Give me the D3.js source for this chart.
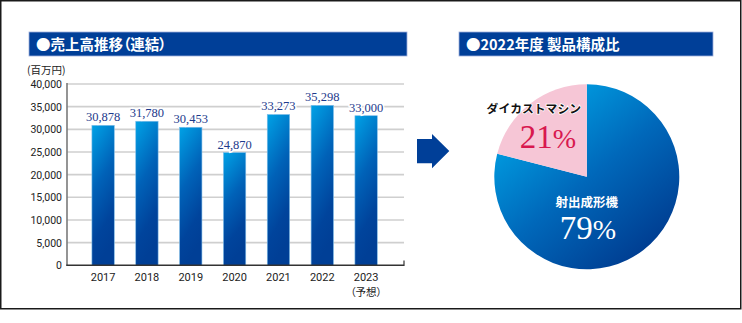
<!DOCTYPE html>
<html lang="ja">
<head>
<meta charset="utf-8">
<script src="https://cdn.jsdelivr.net/npm/d3@7/dist/d3.min.js"></script>
<style>
  html, body { margin: 0; padding: 0; background: #fff; }
  svg { display: block; }
  .palt { font-feature-settings: "palt"; }
</style>
</head>
<body>
<svg id="chart" width="742" height="323"></svg>
<script>
// Consolidated sales (million yen) by fiscal year
const years = ["2017", "2018", "2019", "2020", "2021", "2022", "2023"];
const sales = [30878, 31780, 30453, 24870, 33273, 35298, 33000];
const yTicks = [0, 5000, 10000, 15000, 20000, 25000, 30000, 35000, 40000];

// 2022 product mix (%)
const products = ["射出成形機", "ダイカストマシン"];
const shares = [79, 21];

const svg = d3.select("#chart");
const jp = "'Noto Sans CJK JP', 'Noto Sans', sans-serif";
const serif = "'Liberation Serif', 'DejaVu Serif', serif";
const navy = "#003f98";

const defs = svg.append("defs");
const barGrad = defs.append("linearGradient")
  .attr("id", "barGrad").attr("x1", 0).attr("y1", 0).attr("x2", 0.25).attr("y2", 1);
barGrad.append("stop").attr("offset", 0).attr("stop-color", "#00a2e6");
barGrad.append("stop").attr("offset", 0.45).attr("stop-color", "#0062b8");
barGrad.append("stop").attr("offset", 0.8).attr("stop-color", "#00449c");
barGrad.append("stop").attr("offset", 1).attr("stop-color", "#003f96");

// Outer frame
svg.append("rect")
  .attr("x", 0.75).attr("y", 0.75).attr("width", 740).attr("height", 308)
  .attr("fill", "#fff").attr("stroke", "#1a1a1a").attr("stroke-width", 1.5);

// Section headers
function header(x, w, label) {
  svg.append("rect")
    .attr("x", x).attr("y", 32).attr("width", w).attr("height", 24)
    .attr("fill", navy).attr("stroke", "#9fb0dc").attr("stroke-width", 0.8);
  svg.append("text").attr("class", "palt")
    .attr("x", x + 7).attr("y", 49.5)
    .attr("fill", "#fff").attr("font-family", jp).attr("font-weight", 700)
    .attr("font-size", 14.5).text(label);
}
header(29, 378, "●売上高推移（連結）");
header(459, 254, "●2022年度 製品構成比");

// ---- Bar chart ----
const plotLeft = 67, plotRight = 404;
const y = d3.scaleLinear().domain([0, 40000]).range([265.3, 84]);
const x = d3.scaleBand().domain(years).range([70, 399.2])
  .paddingInner(0.49).paddingOuter(0.5);

// Gridlines
svg.append("g").selectAll("line").data(yTicks.filter(d => d > 0)).join("line")
  .attr("x1", plotLeft).attr("x2", plotRight)
  .attr("y1", d => y(d)).attr("y2", d => y(d))
  .attr("stroke", "#cfcfcf").attr("stroke-width", 1.6);

// Y axis tick labels
const yAxis = d3.axisLeft(y).tickValues(yTicks).tickSize(0).tickPadding(5)
  .tickFormat(d3.format(","));
const gy = svg.append("g").attr("transform", `translate(${plotLeft},0)`).call(yAxis);
gy.select(".domain").remove();
gy.selectAll("text").attr("font-family", "Roboto, 'Open Sans', sans-serif")
  .attr("font-size", 10.5).attr("fill", "#222");

// Bars
svg.append("g").selectAll("rect").data(sales).join("rect")
  .attr("x", (d, i) => x(years[i]))
  .attr("y", d => y(d))
  .attr("width", x.bandwidth())
  .attr("height", d => y(0) - y(d))
  .attr("fill", "url(#barGrad)")
  .attr("stroke", "#7fbde8").attr("stroke-width", 0.6);

// Value labels
svg.append("g").selectAll("text").data(sales).join("text")
  .attr("x", (d, i) => x(years[i]) + x.bandwidth() / 2)
  .attr("y", d => y(d) - 4)
  .attr("text-anchor", "middle")
  .attr("font-family", serif).attr("font-size", 12.5)
  .attr("fill", "#1d3a8c")
  .attr("stroke", "#fff").attr("stroke-width", 3).attr("paint-order", "stroke")
  .text(d => d3.format(",")(d));

// Axis lines
svg.append("line").attr("x1", plotLeft).attr("x2", plotLeft)
  .attr("y1", 83).attr("y2", 265.3).attr("stroke", "#7a7a7a").attr("stroke-width", 1.6);
svg.append("line").attr("x1", plotLeft - 0.8).attr("x2", plotRight)
  .attr("y1", 265.3).attr("y2", 265.3).attr("stroke", "#333").attr("stroke-width", 1.5);
svg.append("line").attr("x1", plotRight).attr("x2", plotRight)
  .attr("y1", 260.5).attr("y2", 266).attr("stroke", "#333").attr("stroke-width", 1.2);

// X axis labels
const xAxis = d3.axisBottom(x).tickSize(0).tickPadding(8);
const gx = svg.append("g").attr("transform", "translate(0,265.3)").call(xAxis);
gx.select(".domain").remove();
gx.selectAll("text").attr("font-family", "Roboto, 'Open Sans', sans-serif")
  .attr("font-size", 11).attr("fill", "#222");
svg.append("text").attr("class", "palt")
  .attr("x", x("2023") + x.bandwidth() / 2).attr("y", 296)
  .attr("text-anchor", "middle").attr("font-family", jp)
  .attr("font-size", 10.5).attr("fill", "#222").text("（予想）");

// Unit label
svg.append("text").attr("x", 27).attr("y", 74)
  .attr("font-family", jp).attr("font-size", 10.5).attr("fill", "#222")
  .text("(百万円)");

// Arrow between panels
svg.append("path")
  .attr("d", "M417,139 L432,139 L432,134 L449.3,151 L432,168.3 L432,163.3 L417,163.3 Z")
  .attr("fill", navy);

// ---- Pie chart ----
const cx = 586.8, cy = 176.8, r = 92.5;
// gradient coordinates are in the pie group's local space (centre at 0,0)
const pieGrad = defs.append("linearGradient").attr("id", "pieGrad")
  .attr("gradientUnits", "userSpaceOnUse")
  .attr("x1", -0.8 * r).attr("y1", -0.7 * r)
  .attr("x2", 0.55 * r).attr("y2", 0.95 * r);
pieGrad.append("stop").attr("offset", 0).attr("stop-color", "#00a4e6");
pieGrad.append("stop").attr("offset", 0.5).attr("stop-color", "#0068ba");
pieGrad.append("stop").attr("offset", 1).attr("stop-color", "#003b8f");

const pie = d3.pie().sort(null).value(d => d);
const arc = d3.arc().innerRadius(0).outerRadius(r);
const pieColors = ["url(#pieGrad)", "#f6c6d6"];

const gp = svg.append("g").attr("transform", `translate(${cx},${cy})`);
gp.selectAll("path").data(pie(shares)).join("path")
  .attr("d", arc).attr("fill", (d, i) => pieColors[i]);

// Pie labels
function pct(g, px, py, value, color) {
  const t = g.append("text").attr("x", px).attr("y", py).attr("text-anchor", "middle")
    .attr("font-family", serif).attr("fill", color);
  t.append("tspan").attr("font-size", 33).text(value);
  t.append("tspan").attr("font-size", 28).text("%");
}
gp.append("text").attr("x", -53).attr("y", -63.5).attr("text-anchor", "middle")
  .attr("font-family", jp).attr("font-weight", 700).attr("font-size", 11.8)
  .attr("fill", "#111").attr("stroke", "#fff").attr("stroke-width", 1.5)
  .attr("paint-order", "stroke").text(products[1]);
pct(gp, -39, -29, shares[1], "#d8184f");
gp.append("text").attr("x", 0).attr("y", 30).attr("text-anchor", "middle")
  .attr("font-family", jp).attr("font-weight", 700).attr("font-size", 12.5)
  .attr("fill", "#fff").text(products[0]);
pct(gp, 1, 62.5, shares[0], "#fff");
</script>
</body>
</html>
